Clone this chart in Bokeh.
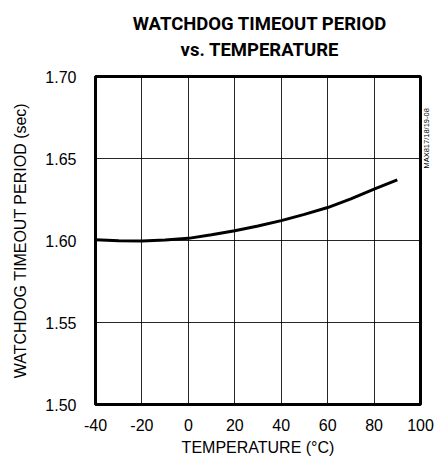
from bokeh.plotting import figure
from bokeh.models import (Range1d, FixedTicker, PrintfTickFormatter, Div,
                          LinearAxis)
from bokeh.layouts import column
from bokeh.embed import file_html
from bokeh.resources import INLINE
import math

# Data
temperature = [-40, -30, -20, -10, 0, 10, 20, 30, 40, 50, 60, 70, 80, 90]
period = [1.6005, 1.5998, 1.5997, 1.6003, 1.6013, 1.6035, 1.6060, 1.6088,
          1.6121, 1.6159, 1.6201, 1.6254, 1.6313, 1.6370]

x_ticks = [-40, -20, 0, 20, 40, 60, 80, 100]
y_ticks = [1.50, 1.55, 1.60, 1.65, 1.70]

title_lines = ["WATCHDOG TIMEOUT PERIOD", "vs. TEMPERATURE"]
x_label = "TEMPERATURE (°C)"
y_label = "WATCHDOG TIMEOUT PERIOD (sec)"
part_code = "MAX817/18/19-08"
part_code_at = 1.6995  # anchor of the part code, in y units

FONT = "Liberation Sans"

# Title block (two lines) as real HTML text
title_html = (
    '<div style="margin:11px 0 0 95px; width:329px; text-align:center; '
    'font-family:Roboto, sans-serif; font-weight:bold; font-size:18.5px; '
    'line-height:26px; color:black; white-space:nowrap;">'
    + "<br>".join(title_lines) + "</div>"
)
top = Div(text=title_html, width=438, height=62, margin=(0, 0, 0, 0))

# Main chart
p = figure(width=438, height=396, output_backend="svg", toolbar_location=None,
           title=None, x_range=Range1d(-40, 100), y_range=Range1d(1.50, 1.70),
           min_border_left=95, min_border_right=14, min_border_top=14,
           min_border_bottom=53, background_fill_color=None,
           border_fill_color="white")

p.outline_line_color = "black"
p.outline_line_width = 3

p.xaxis.ticker = FixedTicker(ticks=x_ticks)
p.yaxis.ticker = FixedTicker(ticks=y_ticks)
p.yaxis.formatter = PrintfTickFormatter(format="%.2f")
p.xaxis.formatter = PrintfTickFormatter(format="%d")

for ax in (p.xaxis[0], p.yaxis[0]):
    ax.axis_line_color = None
    ax.major_tick_line_color = None
    ax.minor_tick_line_color = None
    ax.major_label_text_font = FONT
    ax.major_label_text_font_size = "16px"
    ax.major_label_text_color = "black"
    ax.axis_label_text_font = FONT
    ax.axis_label_text_font_size = "16px"
    ax.axis_label_text_font_style = "normal"
    ax.axis_label_text_color = "black"

p.xaxis.major_label_standoff = 8
p.xaxis.axis_label = x_label
p.xaxis.axis_label_standoff = 5
p.yaxis.major_label_standoff = 13
p.yaxis.axis_label = y_label
p.yaxis.axis_label_standoff = 13

for g in (p.xgrid[0], p.ygrid[0]):
    g.grid_line_color = "black"
    g.grid_line_width = 1
    g.grid_line_alpha = 0.85

p.line(temperature, period, line_color="black", line_width=3)

# Part code on the right edge, rotated to read bottom-to-top
code_axis = LinearAxis(ticker=FixedTicker(ticks=[part_code_at]),
                       major_label_overrides={part_code_at: part_code},
                       major_label_orientation=math.pi / 2,
                       major_label_standoff=0,
                       major_label_text_font=FONT,
                       major_label_text_font_size="7.5px",
                       major_label_text_color="black",
                       axis_line_color=None, major_tick_line_color=None,
                       minor_tick_line_color=None)
p.add_layout(code_axis, "right")

layout = column(top, p)
open("out.html", "w").write(file_html(layout, INLINE))
